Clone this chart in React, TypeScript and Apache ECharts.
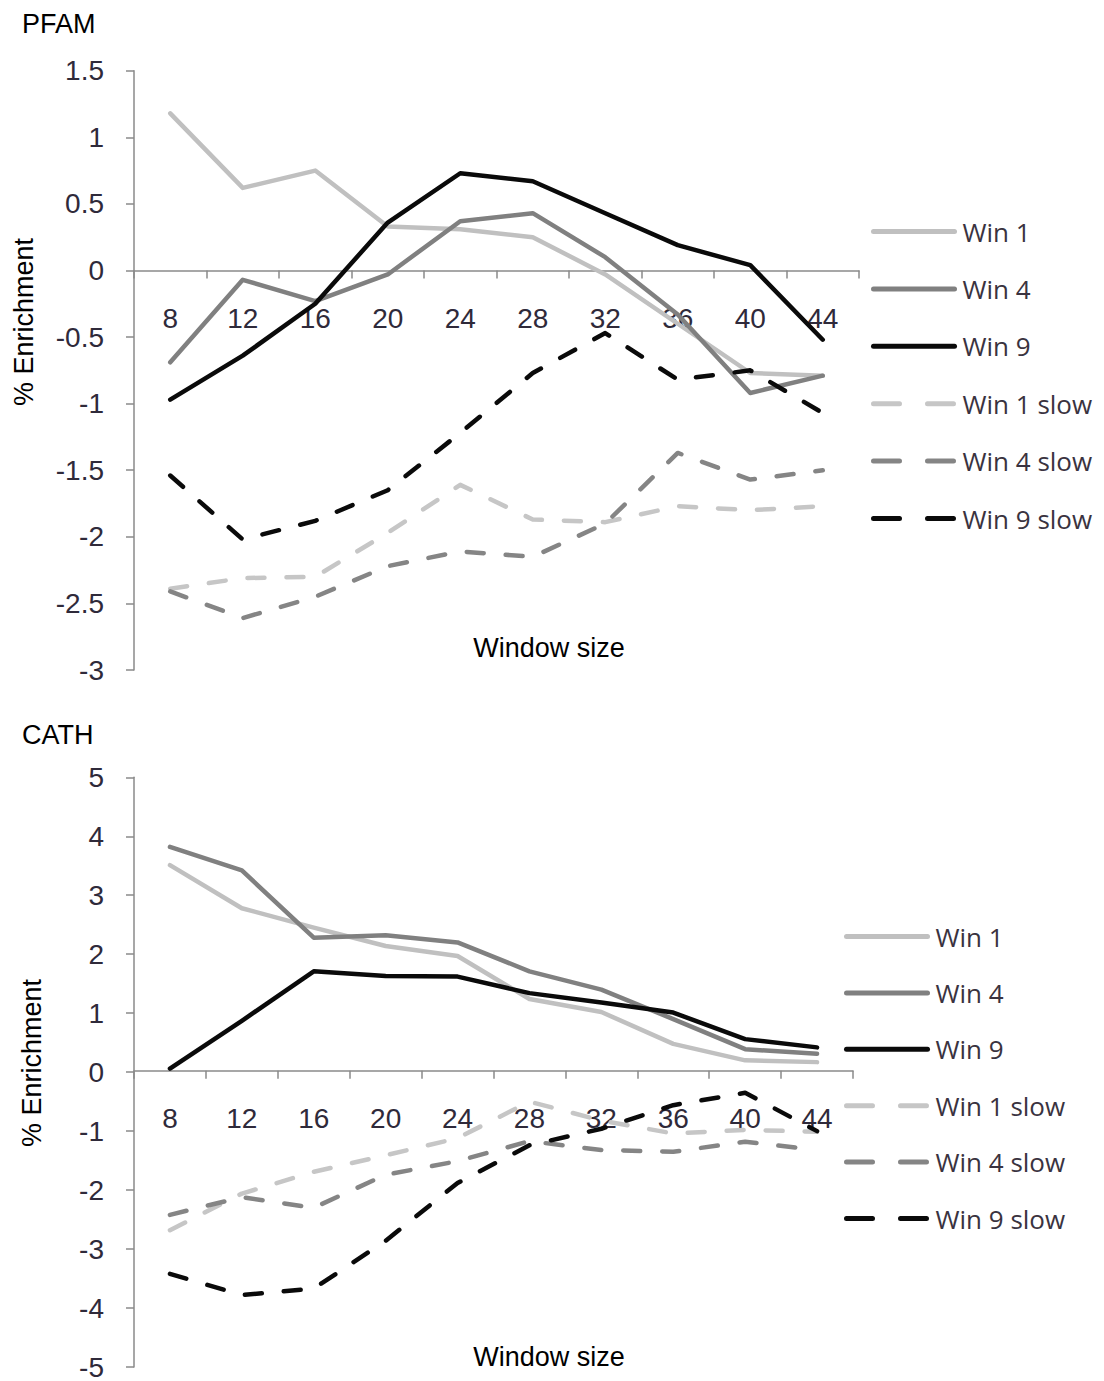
import React, { useEffect, useRef } from "react";
import * as echarts from "echarts";

// Window sizes along the category axis
const windowSizes = ["8", "12", "16", "20", "24", "28", "32", "36", "40", "44"];
const seriesNames = ["Win 1", "Win 4", "Win 9", "Win 1 slow", "Win 4 slow", "Win 9 slow"];

// PFAM enrichment (%)
const pfamWin1 = [1.18, 0.62, 0.75, 0.33, 0.31, 0.25, -0.03, -0.4, -0.77, -0.79];
const pfamWin4 = [-0.69, -0.07, -0.23, -0.03, 0.37, 0.43, 0.1, -0.33, -0.92, -0.79];
const pfamWin9 = [-0.97, -0.64, -0.25, 0.36, 0.73, 0.67, 0.43, 0.19, 0.04, -0.52];
const pfamWin1Slow = [-2.39, -2.31, -2.3, -1.97, -1.61, -1.87, -1.89, -1.77, -1.8, -1.77];
const pfamWin4Slow = [-2.41, -2.61, -2.45, -2.22, -2.11, -2.15, -1.9, -1.37, -1.57, -1.5];
const pfamWin9Slow = [-1.54, -2.02, -1.88, -1.65, -1.22, -0.77, -0.47, -0.82, -0.75, -1.07];

// CATH enrichment (%)
const cathWin1 = [3.51, 2.78, 2.45, 2.14, 1.97, 1.24, 1.02, 0.48, 0.2, 0.17];
const cathWin4 = [3.82, 3.42, 2.28, 2.32, 2.2, 1.71, 1.4, 0.9, 0.39, 0.31];
const cathWin9 = [0.06, 0.87, 1.71, 1.63, 1.62, 1.34, 1.18, 1.01, 0.56, 0.42];
const cathWin1Slow = [-2.68, -2.06, -1.69, -1.41, -1.12, -0.5, -0.82, -1.04, -0.98, -1.01];
const cathWin4Slow = [-2.42, -2.12, -2.3, -1.74, -1.51, -1.17, -1.32, -1.35, -1.18, -1.32];
const cathWin9Slow = [-3.42, -3.78, -3.67, -2.86, -1.88, -1.24, -0.96, -0.56, -0.35, -1.0];

const pfamData = [pfamWin1, pfamWin4, pfamWin9, pfamWin1Slow, pfamWin4Slow, pfamWin9Slow];
const cathData = [cathWin1, cathWin4, cathWin9, cathWin1Slow, cathWin4Slow, cathWin9Slow];

const lineColors = ["#c0c0c0", "#808080", "#0a0a0a", "#c6c6c6", "#858585", "#0a0a0a"];
const dashed = [false, false, false, true, true, true];

const numFont = "Liberation Sans";
const tickColor = "#2f2a3a";
const axisColor = "#8a8a8a";

// Plot areas (pixels)
const pfamGrid = { left: 134, top: 70.7, width: 725, height: 599.3 };
const cathGrid = { left: 134, top: 777.3, width: 719, height: 592.7 };
const pfamRange = { min: -3, max: 1.5, interval: 0.5 };
const cathRange = { min: -5, max: 5, interval: 1 };

function makeSeries(data: number[][], gridIdx: number) {
  return data.map((values, i) => ({
    name: seriesNames[i],
    type: "line",
    xAxisIndex: gridIdx,
    yAxisIndex: gridIdx,
    data: values,
    symbol: "none",
    z: 3,
    lineStyle: {
      color: lineColors[i],
      width: 4.5,
      type: dashed[i] ? [17, 22] : "solid",
      cap: "round",
      join: "round",
    },
    itemStyle: { color: lineColors[i] },
  }));
}

// The category axis sits on the zero line of the value axis: shift it up from
// the bottom of its grid by the height that zero lies above the minimum.
function makeXAxis(gridIdx: number, grid: { height: number }, range: { min: number; max: number }) {
  const zeroLift = (grid.height * (0 - range.min)) / (range.max - range.min);
  return {
    type: "category",
    gridIndex: gridIdx,
    data: windowSizes,
    boundaryGap: true,
    position: "bottom",
    offset: -zeroLift,
    axisLine: { show: true, onZero: false, lineStyle: { color: axisColor, width: 1.5 } },
    axisTick: { show: true, length: 8, alignWithLabel: false, lineStyle: { color: axisColor, width: 1.5 } },
    axisLabel: { margin: 34, fontFamily: numFont, fontSize: 28, color: tickColor },
    splitLine: { show: false },
  };
}

function makeYAxis(gridIdx: number, range: { min: number; max: number; interval: number }) {
  return {
    type: "value",
    gridIndex: gridIdx,
    min: range.min,
    max: range.max,
    interval: range.interval,
    axisLine: { show: true, onZero: false, lineStyle: { color: axisColor, width: 1.5 } },
    axisTick: { show: true, length: 8, lineStyle: { color: axisColor, width: 1.5 } },
    axisLabel: { margin: 30, fontFamily: numFont, fontSize: 28, color: tickColor },
    splitLine: { show: false },
  };
}

function makeLegend(left: number, top: number, gap: number) {
  return {
    orient: "vertical",
    left,
    top,
    itemWidth: 81,
    itemHeight: 25,
    itemGap: gap,
    selectedMode: false,
    itemStyle: { opacity: 0, borderWidth: 0 },
    data: seriesNames.map((n, i) => ({
      name: n,
      itemStyle: { opacity: 0, borderWidth: 0 },
      lineStyle: {
        color: lineColors[i],
        width: 5,
        type: dashed[i] ? [26, 28] : "solid",
        cap: "round",
      },
    })),
    textStyle: {
      fontFamily: "Open Sans",
      fontSize: 26,
      color: "#3a3340",
      padding: [0, 0, 0, 3],
    },
  };
}

const labelFont = "Liberation Sans";

export default function App() {
  const ref = useRef<HTMLDivElement>(null);

  useEffect(() => {
    if (!ref.current) return;
    const chart = echarts.init(ref.current, undefined, { renderer: "svg" });
    chart.setOption({
      animation: false,
      backgroundColor: "#ffffff",
      grid: [pfamGrid, cathGrid],
      xAxis: [makeXAxis(0, pfamGrid, pfamRange), makeXAxis(1, cathGrid, cathRange)],
      yAxis: [makeYAxis(0, pfamRange), makeYAxis(1, cathRange)],
      legend: [makeLegend(866, 213.5, 31.4), makeLegend(839, 918.5, 30.4)],
      series: [...makeSeries(pfamData, 0), ...makeSeries(cathData, 1)],
      graphic: [
        {
          type: "text",
          left: 22,
          top: 10,
          style: { text: "PFAM", font: `27px '${labelFont}'`, fill: "#000" },
        },
        {
          type: "text",
          left: 22,
          top: 721,
          style: { text: "CATH", font: `27px '${labelFont}'`, fill: "#000" },
        },
        {
          type: "text",
          x: 24,
          y: 322,
          rotation: Math.PI / 2,
          style: {
            text: "% Enrichment",
            font: `27px '${labelFont}'`,
            fill: "#000",
            align: "center",
            verticalAlign: "middle",
          },
        },
        {
          type: "text",
          x: 32,
          y: 1063,
          rotation: Math.PI / 2,
          style: {
            text: "% Enrichment",
            font: `27px '${labelFont}'`,
            fill: "#000",
            align: "center",
            verticalAlign: "middle",
          },
        },
        {
          type: "text",
          x: 549,
          y: 648,
          style: {
            text: "Window size",
            font: `27px '${labelFont}'`,
            fill: "#000",
            align: "center",
            verticalAlign: "middle",
          },
        },
        {
          type: "text",
          x: 549,
          y: 1357,
          style: {
            text: "Window size",
            font: `27px '${labelFont}'`,
            fill: "#000",
            align: "center",
            verticalAlign: "middle",
          },
        },
      ],
    });
    return () => chart.dispose();
  }, []);

  return (
    <div
      ref={ref}
      style={{ position: "absolute", left: 0, top: 0, width: 1104, height: 1381, background: "#fff" }}
    />
  );
}
